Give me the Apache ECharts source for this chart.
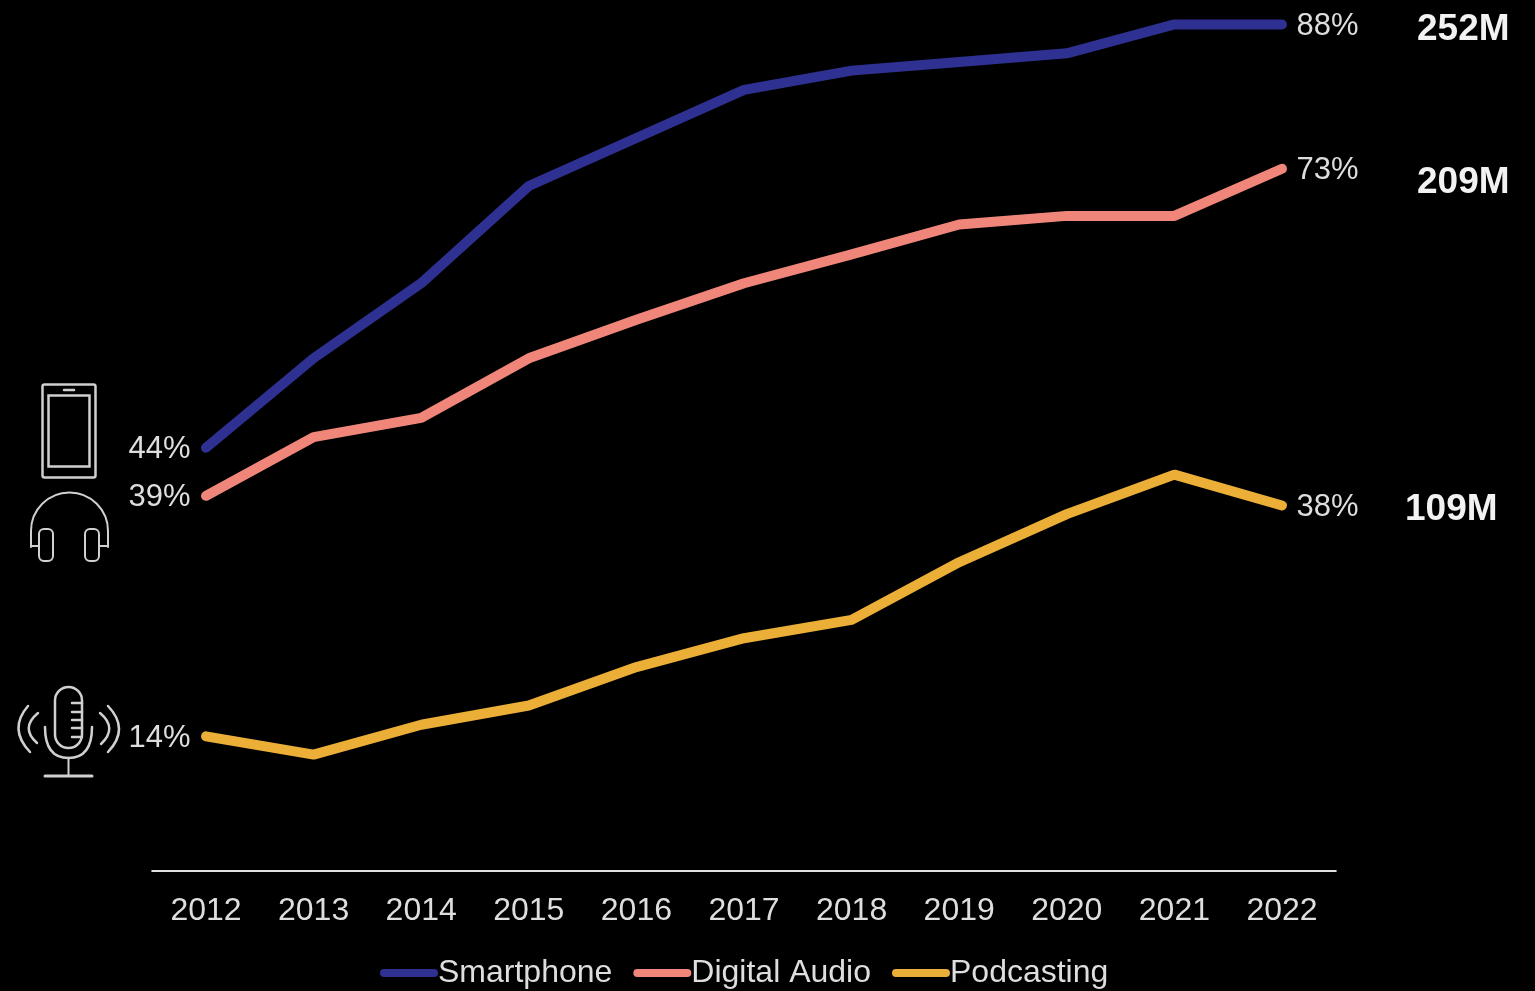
<!DOCTYPE html>
<html>
<head>
<meta charset="utf-8">
<style>html,body{margin:0;padding:0;background:#000}#c{width:1535px;height:991px}</style>
<script src="https://cdn.jsdelivr.net/npm/echarts@6/dist/echarts.min.js"></script>
</head>
<body>
<div id="c"></div>
<script>
const years = ['2012','2013','2014','2015','2016','2017','2018','2019','2020','2021','2022'];
const smartphone = [44, 53.3, 61.1, 71.2, 76.2, 81.2, 83.2, 84.1, 85, 88, 88];
const digitalAudio = [39, 45.1, 47.1, 53.3, 57.3, 61.1, 64.1, 67.2, 68.1, 68.1, 73];
const podcasting = [14, 12.1, 15.2, 17.2, 21.2, 24.2, 26.1, 32.1, 37.1, 41.2, 38];
const totalLabels = ['252M', '209M', '109M'];
const NAVY = '#2E3192', SALMON = '#F0867A', GOLD = '#EBAE37';
const TXT = '#DEDEDE', ICON = '#D0D0D0', FONT = '"Liberation Sans", Arial, sans-serif';
const PILL = 'path://M4 0H54A4 4 0 0 1 54 8H4A4 4 0 0 1 4 0Z';

const chart = echarts.init(document.getElementById('c'), null, {renderer: 'canvas'});

function lineSeries(name, values, color) {
  const last = values.length - 1;
  return {
    name, type: 'line', symbol: 'none', showSymbol: true, smooth: false, silent: true,
    lineStyle: {color, width: 10, cap: 'round', join: 'round'},
    itemStyle: {color},
    data: values.map((v, i) => {
      if (i === 0 || i === last) {
        return {
          value: v, symbol: 'circle', symbolSize: 1,
          label: {
            show: true, position: i === 0 ? 'left' : 'right', distance: i === 0 ? 15 : 14,
            offset: [0, 2],
            formatter: Math.round(v) + '%', color: TXT, fontSize: 31, fontFamily: FONT
          }
        };
      }
      return v;
    })
  };
}

const stroke = {stroke: ICON, lineWidth: 2, fill: null, lineCap: 'round'};
const line = (x1, y1, x2, y2, lw) => ({type: 'line', shape: {x1, y1, x2, y2}, style: {...stroke, lineWidth: lw || 2}});
const box = (x, y, width, height, r, lw) => ({type: 'rect', shape: {x, y, width, height, r}, style: {...stroke, lineWidth: lw || 2}});
const curve = (x1, y1, cpx1, cpy1, x2, y2, lw) => ({type: 'bezierCurve', shape: {x1, y1, cpx1, cpy1, x2, y2}, style: {...stroke, lineWidth: lw || 2}});
const arc = (cx, cy, r, a, b, cw) => ({type: 'arc', shape: {cx, cy, r, startAngle: a, endAngle: b, clockwise: cw}, style: {...stroke}});

const phone = [
  box(42.5, 384.5, 53, 93, 2, 2.5),
  box(48.5, 395.5, 41, 71, 0, 2.5),
  line(64, 390, 74, 390, 2.5)
];
const headphones = [
  arc(69.5, 531, 38.5, Math.PI, 0, true),
  line(31, 531, 31, 547), line(108, 531, 108, 547),
  line(31, 546, 39, 546), line(99, 546, 108, 546),
  box(39, 529, 14, 32, 5), box(85, 529, 14, 32, 5)
];
const mic = [
  box(55, 687, 27, 61, 13.5, 2.5),
  line(72, 703, 82, 703, 2.5), line(72, 712, 82, 712, 2.5), line(72, 720, 82, 720, 2.5),
  line(72, 728, 82, 728, 2.5), line(72, 737, 82, 737, 2.5),
  curve(45, 727, 45, 758, 68.5, 758, 2.5), curve(68.5, 758, 92, 758, 92, 727, 2.5),
  line(68.5, 758, 68.5, 776), line(45, 776, 92, 776, 3),
  curve(28, 706, 8, 729, 30, 752, 2.5), curve(38, 713, 20, 728, 37, 743, 2.5),
  curve(100, 713, 118, 728, 101, 744, 2.5), curve(108, 706, 130, 729, 108, 752, 2.5)
];
const total = (text, x, y) => ({
  type: 'text',
  style: {text, x, y, fill: '#F2F2F2', font: 'bold 37px ' + FONT, verticalAlign: 'middle', textVerticalAlign: 'middle'}
});

chart.setOption({
  animation: false,
  backgroundColor: '#000',
  grid: {left: 152.2, right: 199.2, top: 5.2, height: 865.8, containLabel: false},
  xAxis: {
    type: 'category', data: years, boundaryGap: true,
    axisTick: {show: false},
    axisLine: {lineStyle: {color: '#E0E0E0', width: 2}},
    axisLabel: {color: TXT, fontSize: 32, fontFamily: FONT, margin: 24}
  },
  yAxis: {type: 'value', min: 0, max: 90, show: false, splitLine: {show: false}},
  legend: {
    bottom: 2, left: 380, itemWidth: 58, itemHeight: 9, itemGap: 21, padding: 0,
    selectedMode: false,
    icon: PILL,
    textStyle: {color: TXT, fontSize: 32, fontFamily: FONT, padding: [0, 0, 0, -5]},
    data: ['Smartphone', 'Digital Audio', 'Podcasting']
  },
  graphic: {elements: [
    total(totalLabels[0], 1417, 30),
    total(totalLabels[1], 1417, 183),
    total(totalLabels[2], 1405, 510),
    ...phone, ...headphones, ...mic
  ]},
  series: [
    lineSeries('Smartphone', smartphone, NAVY),
    lineSeries('Digital Audio', digitalAudio, SALMON),
    lineSeries('Podcasting', podcasting, GOLD)
  ]
});
</script>
</body>
</html>
